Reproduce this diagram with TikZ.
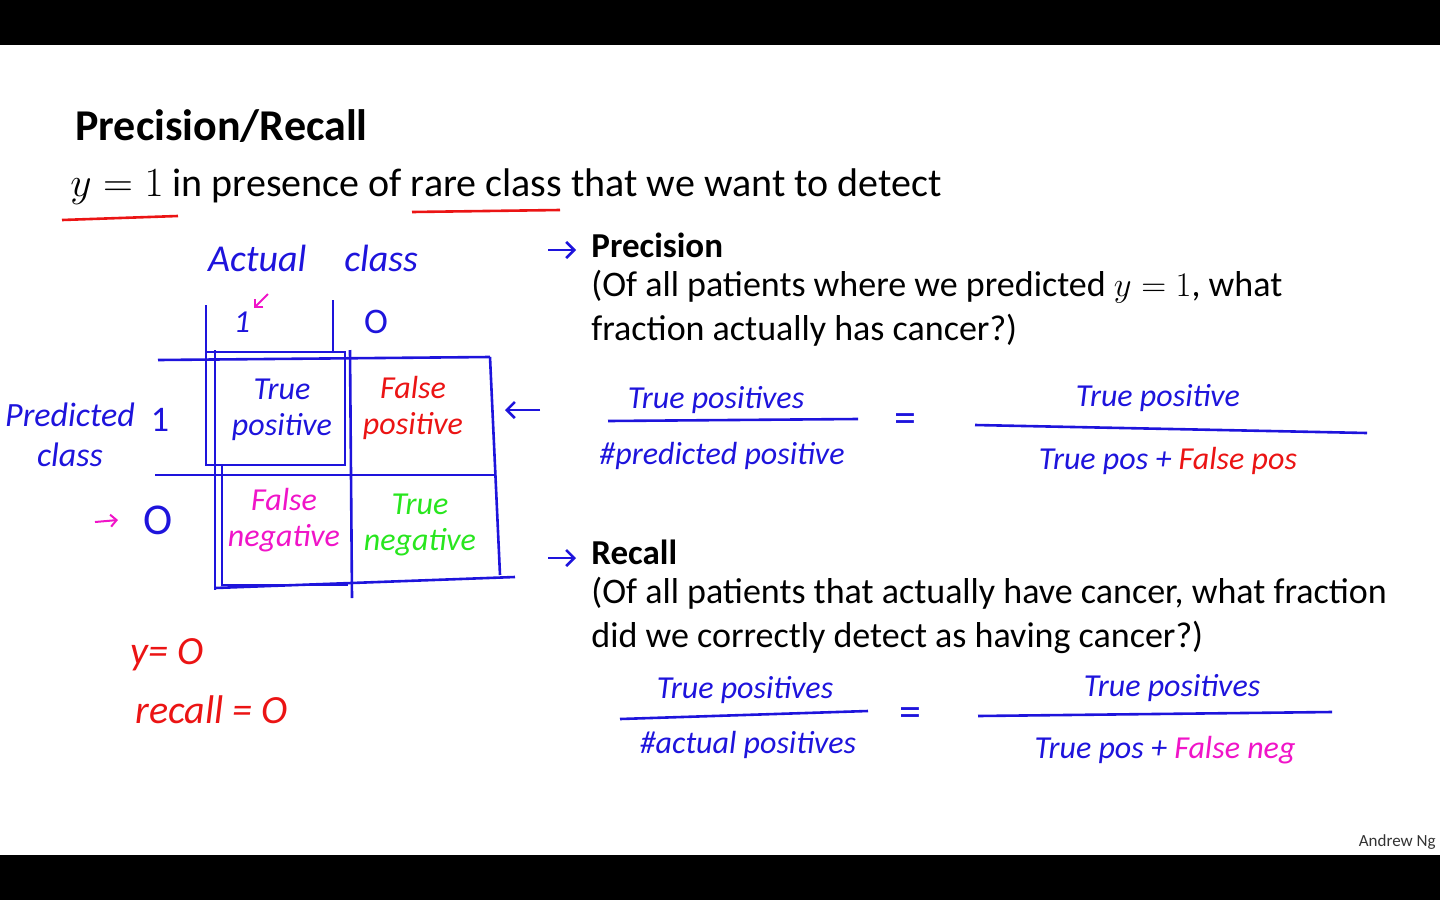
\documentclass[tikz,border=0pt]{standalone}
\usepackage{fontspec}
\setmainfont{Carlito}
\usetikzlibrary{arrows.meta}
\definecolor{hb}{RGB}{30,20,220}
\definecolor{hr}{RGB}{235,20,20}
\definecolor{hm}{RGB}{240,20,200}
\definecolor{hg}{RGB}{40,230,30}
\tikzset{
 txt/.style={anchor=west,inner sep=0pt,font=\fontsize{20}{24}\selectfont},
 desc/.style={inner sep=0pt,align=left,anchor=north west,font=\fontsize{18}{22}\selectfont},
 hw/.style={inner sep=0pt,font=\fontsize{16}{18}\selectfont\itshape,text=hb},
 hl/.style={line width=1.3pt,hb},
 arr/.style={hl,-{Straight Barb[length=4pt]}}
}
\begin{document}
\begin{tikzpicture}[x=0.5pt,y=-0.5pt]
\useasboundingbox (0,0) rectangle (1440,900);
\fill[black] (0,0) rectangle (1440,45);
\fill[black] (0,855) rectangle (1440,900);
\node[txt,font=\fontsize{22}{26}\selectfont\bfseries] (title) at (75,126) {Precision/Recall};
\node[txt] (sub) at (70,187) {$y=1$ in presence of rare class that we want to detect};
\draw[hr,line width=1.3pt] (62,220) -- (178,216);
\draw[hr,line width=1.3pt] (412,212) -- (560,210);
% precision
\node[txt,font=\fontsize{17.5}{20}\selectfont\bfseries] (ptitle) at (591,245) {Precision};
\coordinate (pa) at (548,250);
\draw[arr] (pa) -- ++(28,0);
\node[desc] (pdesc) at (591,270) {(Of all patients where we predicted $y=1$, what\\fraction actually has cancer?)};
\node[hw] (p1n) at (716,400) {True positives};
\draw[hl] (608,421) -- (858,419);
\node[hw] (p1d) at (722,456) {\#predicted positive};
\node[hw,font=\fontsize{22}{24}\selectfont] (peq) at (905,423) {=};
\node[hw] (p2n) at (1158,398) {True positive};
\draw[hl] (975,425) -- (1367,433);
\node[hw] (p2d) at (1168,461) {True pos + \textcolor{hr}{False pos}};
% recall
\node[txt,font=\fontsize{17.5}{20}\selectfont\bfseries] (rtitle) at (591,552) {Recall};
\coordinate (ra) at (548,558);
\draw[arr] (ra) -- ++(28,0);
\node[desc] (rdesc) at (591,577) {(Of all patients that actually have cancer, what fraction\\did we correctly detect as having cancer?)};
\node[hw] (r1n) at (745,690) {True positives};
\draw[hl] (620,719) -- (868,711);
\node[hw] (r1d) at (748,745) {\#actual positives};
\node[hw,font=\fontsize{22}{24}\selectfont] (req) at (910,717) {=};
\node[hw] (r2n) at (1172,688) {True positives};
\draw[hl] (978,716) -- (1332,712);
\node[hw] (r2d) at (1165,750) {True pos + \textcolor{hm}{False neg}};
% matrix
\node[hw,font=\fontsize{19}{22}\selectfont\itshape] (actual) at (313,258) {Actual\quad class};
\node[hw] (one) at (242,322) {1};
\node[hw,font=\fontsize{18}{20}\selectfont] (zero) at (376,322) {O};
\draw[hm,line width=1pt,-{Straight Barb[length=3pt]}] (268,294) -- (254,308);
\draw[hl] (206,305) -- (206,352); \draw[hl] (333,300) -- (333,352);
\draw[hl] (158,360) -- (490,357);
\draw[hl] (155,475) -- (495,475);
\draw[hl] (490,357) -- (500,575);
\draw[hl] (215,588) -- (515,577);
\draw[hl] (215,350) -- (215,590);
\draw[hl] (350,350) -- (352,598);
\draw[hl] (206,352) rectangle (345,465);
\draw[hl] (222,465) -- (222,585) -- (348,585);
\node[hw,align=center] (tp) at (282,410) {True\\positive};
\node[hw,align=center,text=hr] (fp) at (413,408) {False\\positive};
\node[hw,align=center,text=hm] (fn) at (284,520) {False\\negative};
\node[hw,align=center,text=hg] (tn) at (420,525) {True\\negative};
\node[hw,align=center,font=\fontsize{17}{20}\selectfont\itshape] (pred) at (70,435) {Predicted\\class};
\node[hw,font=\fontsize{18}{20}\selectfont] (p1) at (160,420) {1};
\node[hw,font=\fontsize{22}{24}\selectfont] (p0) at (158,520) {O};
\draw[hm,line width=1pt,-{Straight Barb[length=3pt]}] (95,522) -- (118,520);
\draw[arr] (540,410) -- (505,410);
\node[hw,text=hr,font=\fontsize{20}{22}\selectfont\itshape,anchor=west] (y0) at (130,655) {y= O};
\node[hw,text=hr,font=\fontsize{20}{22}\selectfont\itshape,anchor=west] (rec) at (135,710) {recall = O};
\node[anchor=south east,inner sep=0pt,font=\fontsize{8.5}{9}\selectfont,text=black!80] (ng) at (1436,850) {Andrew Ng};
\end{tikzpicture}
\end{document}
